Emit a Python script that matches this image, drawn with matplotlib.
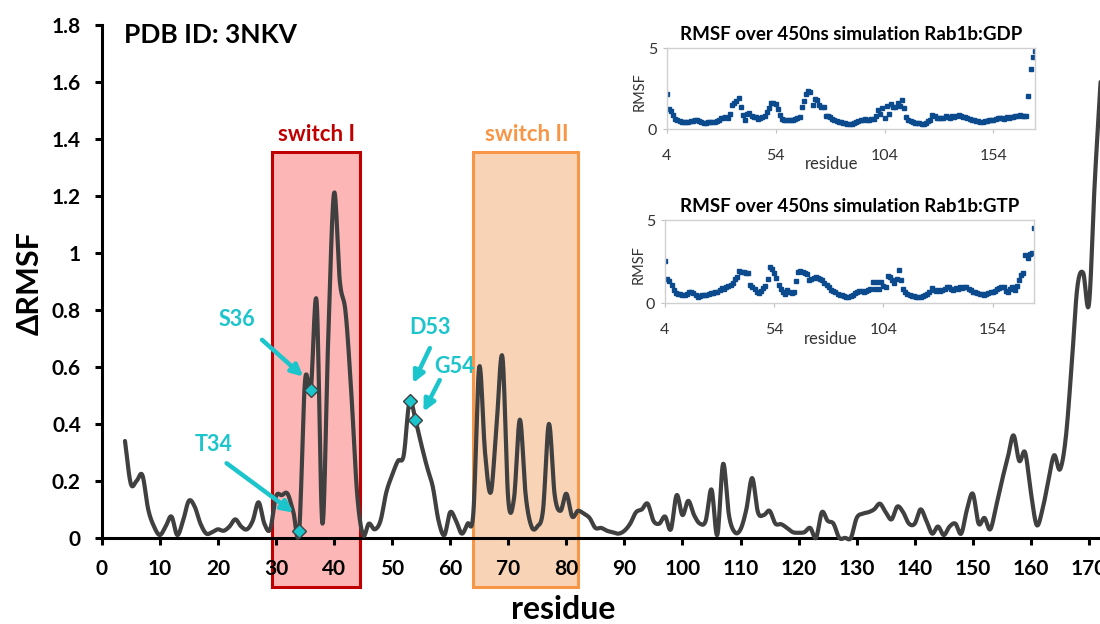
import numpy as np
import matplotlib
matplotlib.use("Agg")
import matplotlib.pyplot as plt
from matplotlib.patches import Rectangle

plt.rcParams['font.family'] = ['Lato', 'DejaVu Sans']

# main curve: delta RMSF per residue (4..172)
drmsf = [0.34, 0.19, 0.20, 0.22, 0.10, 0.04, 0.01, 0.04, 0.075, 0.01,
         0.06, 0.13, 0.11, 0.05, 0.015, 0.02, 0.03, 0.025, 0.04, 0.065,
         0.04, 0.03, 0.06, 0.125, 0.05, 0.03, 0.145, 0.15, 0.155, 0.09,
         0.025, 0.55, 0.52, 0.83, 0.05, 0.70, 1.21, 0.90, 0.79, 0.50,
         0.15, 0.01, 0.05, 0.03, 0.06, 0.16, 0.22, 0.27, 0.29, 0.48,
         0.415, 0.33, 0.25, 0.18, 0.06, 0.01, 0.09, 0.06, 0.015, 0.05,
         0.09, 0.60, 0.30, 0.16, 0.40, 0.635, 0.135, 0.14, 0.415, 0.15,
         0.04, 0.04, 0.10, 0.40, 0.15, 0.095, 0.155, 0.075, 0.095, 0.085,
         0.07, 0.035, 0.035, 0.025, 0.02, 0.015, 0.025, 0.05, 0.09, 0.10,
         0.12, 0.06, 0.05, 0.075, 0.03, 0.15, 0.08, 0.13, 0.08, 0.05,
         0.06, 0.17, 0.01, 0.26, 0.08, 0.02, 0.03, 0.10, 0.21, 0.09,
         0.08, 0.095, 0.05, 0.048, 0.035, 0.02, 0.018, 0.02, 0.035, 0.0,
         0.09, 0.06, 0.05, 0.0, 0.0, 0.0, 0.07, 0.085, 0.09, 0.10,
         0.12, 0.09, 0.065, 0.11, 0.09, 0.05, 0.05, 0.10, 0.06, 0.015,
         0.04, 0.01, 0.04, 0.05, 0.015, 0.10, 0.155, 0.05, 0.07, 0.03,
         0.11, 0.20, 0.28, 0.36, 0.27, 0.30, 0.16, 0.045, 0.10, 0.20,
         0.29, 0.24, 0.35, 0.60, 0.88, 0.93, 0.82, 1.25, 1.60]
res_main = np.arange(4, 4 + len(drmsf))

# highlighted residues
marked_res = [34, 36, 53, 54]
marked_lbl = ["T34", "S36", "D53", "G54"]

# inset data: RMSF per residue (4..173)
rmsf_gdp = [2.2, 1.25, 1.15, 0.9, 0.65, 0.55, 0.5, 0.48, 0.47, 0.47,
            0.48, 0.5, 0.52, 0.55, 0.55, 0.5, 0.45, 0.42, 0.42, 0.44,
            0.45, 0.43, 0.45, 0.5, 0.6, 0.68, 0.72, 0.75, 0.7, 0.95,
            1.5, 1.6, 1.75, 1.95, 1.35, 0.9, 0.6, 0.95, 1.0, 0.8,
            0.78, 0.75, 0.65, 0.7, 0.75, 0.85, 1.1, 1.3, 1.65, 1.6,
            1.55, 1.25, 0.9, 0.65, 0.6, 0.58, 0.55, 0.56, 0.6, 0.65,
            0.7, 0.75, 1.4, 1.75, 2.2, 2.35, 2.3, 1.5, 1.85, 1.8,
            1.5, 1.4, 1.35, 0.85, 0.8, 0.78, 0.65, 0.55, 0.5, 0.48,
            0.45, 0.42, 0.38, 0.35, 0.33, 0.35, 0.4, 0.45, 0.5, 0.55,
            0.6, 0.62, 0.58, 0.6, 0.65, 0.62, 0.8, 1.2, 0.95, 1.3,
            0.7, 1.45, 0.95, 1.55, 1.4, 1.35, 1.6, 1.45, 1.8, 1.3,
            0.75, 0.6, 0.5, 0.45, 0.42, 0.4, 0.38, 0.35, 0.33, 0.4,
            0.5, 0.6, 0.9, 0.8, 0.72, 0.7, 0.68, 0.72, 0.8, 0.75,
            0.7, 0.8, 0.75, 0.82, 0.9, 0.85, 0.78, 0.75, 0.7, 0.65,
            0.6, 0.55, 0.52, 0.5, 0.48, 0.48, 0.5, 0.52, 0.55, 0.58,
            0.6, 0.62, 0.7, 0.72, 0.68, 0.65, 0.75, 0.7, 0.78, 0.75,
            0.8, 0.85, 0.9, 0.82, 0.85, 0.8, 2.05, 3.75, 4.45, 4.85]
rmsf_gtp = [2.55, 1.45, 1.35, 1.1, 0.8, 0.6, 0.55, 0.55, 0.52, 0.52,
            0.55, 0.68, 0.7, 0.62, 0.5, 0.4, 0.45, 0.5, 0.5, 0.52,
            0.55, 0.6, 0.62, 0.65, 0.7, 0.8, 0.9, 0.85, 1.0, 1.05,
            1.1, 1.2, 1.45, 1.6, 1.95, 1.9, 1.88, 1.85, 1.84, 1.1,
            0.95, 0.85, 0.65, 0.6, 0.75, 0.9, 1.05, 1.45, 2.2, 2.05,
            1.85, 1.55, 1.1, 0.85, 0.65, 0.55, 0.8, 0.65, 0.6, 0.7,
            1.35, 1.9, 1.95, 1.9, 1.85, 1.75, 1.4, 1.45, 1.55, 1.58,
            1.5, 1.45, 1.4, 1.25, 1.1, 1.0, 0.8, 0.75, 0.65, 0.58,
            0.5, 0.48, 0.45, 0.4, 0.36, 0.42, 0.5, 0.6, 0.7, 0.74,
            0.72, 0.7, 0.72, 0.78, 0.84, 1.3, 0.85, 1.3, 0.84, 1.3,
            1.05, 1.0, 1.64, 1.58, 1.4, 1.25, 1.45, 2.0, 1.4, 0.84,
            0.65, 0.55, 0.5, 0.45, 0.42, 0.4, 0.38, 0.36, 0.42, 0.5,
            0.56, 0.65, 0.9, 0.8, 0.76, 0.78, 0.75, 0.8, 0.85, 0.95,
            1.0, 0.85, 0.8, 0.9, 0.85, 0.95, 0.9, 1.0, 0.95, 0.85,
            0.8, 0.7, 0.65, 0.6, 0.58, 0.55, 0.5, 0.55, 0.6, 0.65,
            0.7, 0.75, 0.84, 0.9, 1.0, 0.95, 0.75, 0.7, 0.85, 1.0,
            0.8, 1.05, 1.4, 1.7, 1.8, 2.9, 2.75, 2.95, 3.0, 4.5]
res_inset = np.arange(4, 4 + len(rmsf_gdp))

CYAN = '#1CC4CC'
GREY = '#404040'
BLUE = '#0B4A8C'


def catmull_rom(x, y, n=12):
    # smoothed line through the points, like Excel's "smoothed line"
    pts = np.column_stack([x, y]).astype(float)
    P = np.vstack([2 * pts[0] - pts[1], pts, 2 * pts[-1] - pts[-2]])
    t = np.linspace(0, 1, n, endpoint=False)[:, None]
    segs = []
    for i in range(1, len(P) - 2):
        p0, p1, p2, p3 = P[i - 1], P[i], P[i + 1], P[i + 2]
        segs.append(0.5 * (2 * p1 + (-p0 + p2) * t
                           + (2 * p0 - 5 * p1 + 4 * p2 - p3) * t ** 2
                           + (-p0 + 3 * p1 - 3 * p2 + p3) * t ** 3))
    segs.append(pts[-1][None])
    s = np.vstack(segs)
    return s[:, 0], s[:, 1]


fig = plt.figure(figsize=(11, 6.24), dpi=100)
ax = fig.add_axes([0.0925, 0.138, 0.9075, 0.822])

# switch regions
ax.add_patch(Rectangle((29.4, -0.172), 44.5 - 29.4, 1.355 + 0.172,
                       facecolor='#FDB6B6', edgecolor='#C00000', lw=2.2,
                       clip_on=False, zorder=1))
ax.add_patch(Rectangle((63.9, -0.172), 82.0 - 63.9, 1.355 + 0.172,
                       facecolor='#F8D3B6', edgecolor='#F79646', lw=2.2,
                       clip_on=False, zorder=1))
ax.text(37.0, 1.415, "switch I", color='#C00000', fontsize=16,
        fontweight='bold', ha='center', va='center')
ax.text(73.2, 1.415, "switch II", color='#F79646', fontsize=16,
        fontweight='bold', ha='center', va='center')

sx, sy = catmull_rom(res_main, drmsf)
ax.plot(sx, sy, color=GREY, lw=3.0, clip_on=False, zorder=3,
        solid_capstyle='round', solid_joinstyle='round')

mvals = [drmsf[r - 4] for r in marked_res]
ax.plot(marked_res, mvals, ls='none', marker='D', ms=7.5, mfc=CYAN,
        mec=GREY, mew=1.0, zorder=4)

# residue labels with arrows: (text pos, arrow start, arrow head)
lbl_pos = {"T34": ((19.3, 0.326), (21.5, 0.262), (33.0, 0.089)),
           "S36": ((23.3, 0.765), (27.6, 0.695), (34.7, 0.566)),
           "D53": ((56.5, 0.74), (56.5, 0.666), (53.6, 0.543)),
           "G54": ((60.8, 0.60), (58.2, 0.554), (55.4, 0.443))}
for name in marked_lbl:
    tpos, a0, a1 = lbl_pos[name]
    ax.text(tpos[0], tpos[1], name, color=CYAN, fontsize=15.5,
            fontweight='bold', ha='center', va='center')
    ax.annotate("", xy=a1, xytext=a0,
                arrowprops=dict(arrowstyle='-|>', color=CYAN, lw=3.2,
                                mutation_scale=17, shrinkA=0, shrinkB=0))

ax.text(0.0223, 0.980, "PDB ID: 3NKV", transform=ax.transAxes,
        fontsize=19, fontweight='bold', ha='left', va='center')

ax.set_xlim(0, 171.9)
ax.set_ylim(0, 1.8)
ax.set_xticks(np.arange(0, 171, 10))
ax.set_yticks(np.arange(0, 1.81, 0.2))
ax.set_yticklabels(['0', '0.2', '0.4', '0.6', '0.8', '1', '1.2', '1.4',
                    '1.6', '1.8'])
for s in ['top', 'right']:
    ax.spines[s].set_visible(False)
for s in ['left', 'bottom']:
    ax.spines[s].set_linewidth(2.2)
ax.tick_params(axis='both', direction='out', length=5, width=2.2,
               labelsize=15)
ax.tick_params(axis='x', pad=10)
ax.tick_params(axis='y', pad=10)
for lab in ax.get_xticklabels() + ax.get_yticklabels():
    lab.set_fontweight('bold')

ax.set_xlabel("residue", fontsize=23, fontweight='bold')
ax.xaxis.set_label_coords(0.462, -0.140)
ax.xaxis.label.set_va('center')
ax.set_ylabel("ΔRMSF", fontsize=22, fontweight='bold')
ax.yaxis.set_label_coords(-0.0718, 0.497)
ax.yaxis.label.set_va('center')


def inset(rect, vals, title):
    a = fig.add_axes(rect)
    a.plot(res_inset, vals, ls='none', marker='s', ms=2.7, color=BLUE)
    a.set_xlim(4, 173)
    a.set_ylim(0, 5)
    a.set_xticks([4, 54, 104, 154])
    a.set_yticks([0, 5])
    for s in a.spines.values():
        s.set_color('#D0D0D0')
        s.set_linewidth(1.0)
    a.tick_params(direction='out', length=3, color='#C0C0C0',
                  labelsize=11.5, labelcolor='#333333')
    a.tick_params(axis='x', pad=11)
    a.tick_params(axis='y', pad=4)
    a.set_title(title, fontsize=13.5, fontweight='bold', pad=6)
    a.text(0.448, -0.43, "residue", transform=a.transAxes, fontsize=12,
           color='#333333', ha='center', va='center')
    a.text(-0.072, 0.47, "RMSF", transform=a.transAxes, fontsize=10.5,
           color='#333333', ha='center', va='center', rotation=90)
    return a


inset([0.606, 0.7928, 0.3348, 0.1295], rmsf_gdp,
      "RMSF over 450ns simulation Rab1b:GDP")
inset([0.6045, 0.5139, 0.3357, 0.1335], rmsf_gtp,
      "RMSF over 450ns simulation Rab1b:GTP")

fig.savefig("out.png", dpi=100)
